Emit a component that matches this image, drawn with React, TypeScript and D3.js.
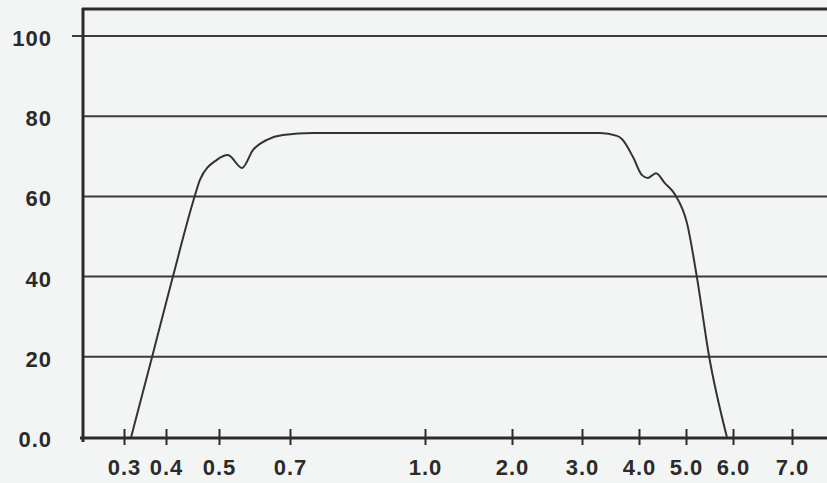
import React, { useEffect, useRef } from 'react';
import * as d3 from 'd3';

// x axis is not uniform on the page, so ticks are stops of a piecewise scale
const xTicks = [0.3, 0.4, 0.5, 0.7, 1.0, 2.0, 3.0, 4.0, 5.0, 6.0, 7.0];
const xTickLabels = ['0.3', '0.4', '0.5', '0.7', '1.0', '2.0', '3.0', '4.0', '5.0', '6.0', '7.0'];
const yTicks = [0, 20, 40, 60, 80, 100];
const yTickLabels = ['0.0', '20', '40', '60', '80', '100'];

// transmission curve
const wavelength = [0.317, 0.367, 0.413, 0.455, 0.464, 0.496, 0.525, 0.565, 0.596, 0.635, 0.68, 0.751, 1.0, 2.0, 3.316, 3.614, 3.7, 3.895, 4.064, 4.19, 4.36, 4.55, 4.77, 5.02, 5.23, 5.49, 5.87];
const transmission = [0, 20, 40, 60.4, 64.1, 69.1, 70.3, 67.1, 71.6, 74.1, 75.3, 75.8, 75.8, 75.8, 75.8, 75.1, 74.3, 69.8, 65.3, 64.6, 65.8, 63.3, 60.4, 53.4, 40, 20.2, 0];

const W = 827;
const H = 483;

const TransmissionChart = () => {
  const svgRef = useRef<SVGSVGElement>(null);

  useEffect(() => {
    const svg = d3.select(svgRef.current);
    svg.selectAll('*').remove();

    const ink = '#2b2b2b';
    const font = '"Liberation Sans", Arial, sans-serif';

    const x = d3.scaleLinear()
      .domain(xTicks)
      .range([124, 166, 219, 290, 425, 512, 582, 639, 686, 733, 792]);

    const y = d3.scaleLinear()
      .domain([0, 100])
      .range([437, 36]);

    svg.append('rect')
      .attr('width', W)
      .attr('height', H)
      .attr('fill', '#f3f5f5');

    // horizontal grid
    svg.append('g')
      .selectAll('line')
      .data(yTicks.filter(d => d > 0))
      .enter()
      .append('line')
      .attr('x1', d => (d === 100 ? 72 : 83))
      .attr('x2', W)
      .attr('y1', d => y(d))
      .attr('y2', d => y(d))
      .attr('stroke', '#3a3a3a')
      .attr('stroke-width', 2);

    // top border
    svg.append('line')
      .attr('x1', 82).attr('x2', W)
      .attr('y1', 9).attr('y2', 9)
      .attr('stroke', ink)
      .attr('stroke-width', 3);

    // left axis
    svg.append('line')
      .attr('x1', 83).attr('x2', 83)
      .attr('y1', 8).attr('y2', 442)
      .attr('stroke', ink)
      .attr('stroke-width', 3);

    // y labels
    svg.append('g')
      .selectAll('text')
      .data(yTicks)
      .enter()
      .append('text')
      .attr('x', 52)
      .attr('y', d => y(d) + 10)
      .attr('text-anchor', 'end')
      .style('font-family', font)
      .style('font-size', '22px')
      .style('font-weight', 'bold')
      .style('letter-spacing', '1px')
      .style('fill', ink)
      .text((d, i) => yTickLabels[i]);

    // x axis
    const xAxis = d3.axisBottom(x)
      .tickValues(xTicks)
      .tickSize(15)
      .tickFormat((d, i) => xTickLabels[i]);

    const gx = svg.append('g')
      .attr('transform', `translate(0, ${y(0) + 1})`)
      .call(xAxis);

    gx.select('.domain').remove();
    gx.append('line')
      .attr('x1', 80).attr('x2', W)
      .attr('stroke', ink)
      .attr('stroke-width', 3);
    gx.selectAll('.tick line')
      .attr('y1', -9)
      .attr('y2', 7)
      .attr('stroke', ink)
      .attr('stroke-width', 2);
    gx.selectAll('.tick text')
      .attr('y', 37)
      .attr('dy', null)
      .style('font-family', font)
      .style('font-size', '22px')
      .style('font-weight', 'bold')
      .style('letter-spacing', '1px')
      .style('fill', ink);

    // curve
    const line = d3.line<number>()
      .x((d, i) => x(wavelength[i]))
      .y(d => y(d))
      .curve(d3.curveMonotoneX);

    svg.append('path')
      .datum(transmission)
      .attr('d', line)
      .attr('fill', 'none')
      .attr('stroke', '#333')
      .attr('stroke-width', 2);
  }, []);

  return (
    <svg
      ref={svgRef}
      width={W}
      height={H}
      style={{ position: 'absolute', left: 0, top: 0, display: 'block' }}
    ></svg>
  );
};

export default function App() {
  return <TransmissionChart />;
}
